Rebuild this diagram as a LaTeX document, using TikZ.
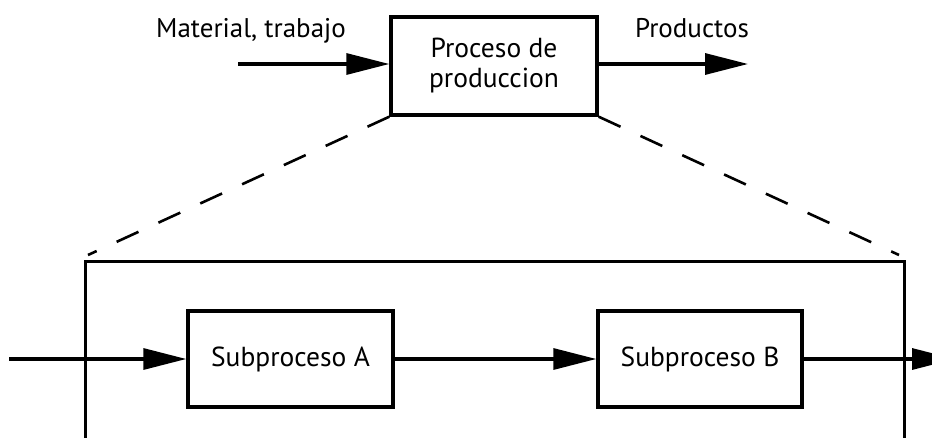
\documentclass[tikz,border=0pt]{standalone}
\usepackage{fontspec}
\setmainfont{PT Sans}
\usetikzlibrary{arrows.meta}
\begin{document}
\begin{tikzpicture}[x=1pt,y=-1pt,
  box/.style={draw, line width=3.4pt, inner sep=0pt, align=center, font=\fontsize{27.5}{30}\selectfont},
  arr/.style={line width=3.2pt, -{Triangle[length=43pt,width=21pt]}},
  lbl/.style={font=\fontsize{27}{30}\selectfont, anchor=base, inner sep=0pt},
  dashln/.style={line width=2.6pt, dash pattern=on 24pt off 22pt},
  frame/.style={line width=3pt}]
\useasboundingbox (0,0) rectangle (932,437);
\clip (0,0) rectangle (932,437);
\node[box, minimum width=206pt, minimum height=98pt] (top) at (494,66) {Proceso de\\produccion};
\node[box, minimum width=205pt, minimum height=96pt] (subA) at (290.5,359) {Subproceso A};
\node[box, minimum width=204pt, minimum height=96pt] (subB) at (700,359) {Subproceso B};
\node[lbl] (mt) at (251,37) {Material, trabajo};
\node[lbl] (pr) at (692,37) {Productos};
\coordinate (in) at (238,64);
\coordinate (out) at (748,64);
\coordinate (lin) at (9,359);
\coordinate (rout) at (955,359);
\coordinate (bigTL) at (85,261);
\coordinate (bigTR) at (904,261);
\coordinate (bigBL) at (85,445);
\coordinate (bigBR) at (904,445);
\coordinate (dl) at (88,255);
\coordinate (dr) at (899,255);
\draw[frame] (bigBL) -- (bigTL) -- (bigTR) -- (bigBR);
\draw[arr] (in) -- (in -| top.west);
\draw[arr] (top.east |- out) -- (out);
\draw[arr] (lin) -- (subA.west);
\draw[arr] (subA.east) -- (subB.west);
\draw[arr] (subB.east) -- (rout);
\draw[dashln] (top.south west) -- (dl);
\draw[dashln] (top.south east) -- (dr);
\end{tikzpicture}
\end{document}
